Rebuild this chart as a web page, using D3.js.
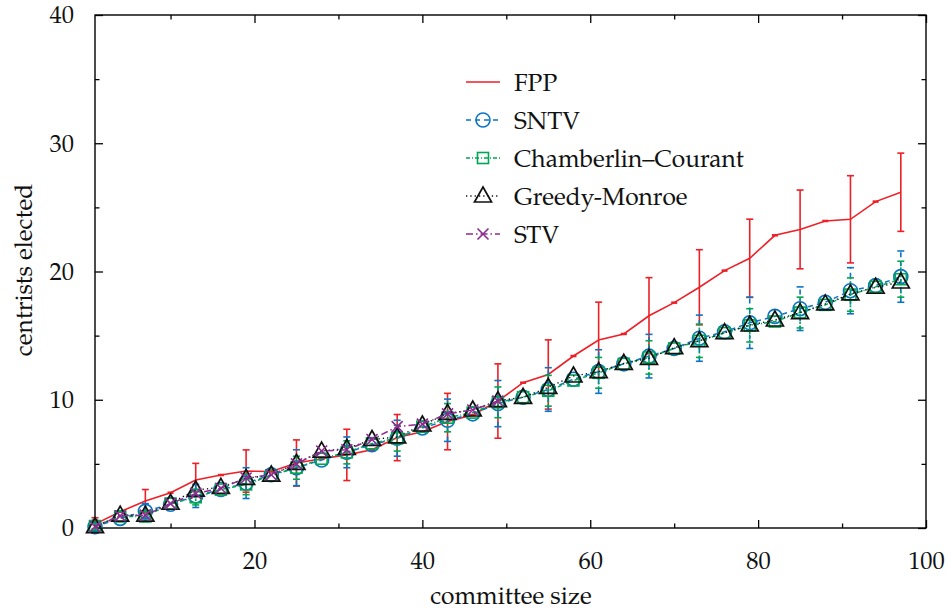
<!DOCTYPE html>
<html><head><meta charset="utf-8">
<script src="https://cdn.jsdelivr.net/npm/d3@7"></script>
<style>body{margin:0;background:#fff} svg{display:block}</style>
</head><body>
<svg id="c" width="948" height="610"></svg>
<script>
// ---- data ----
const committeeSize = [1,4,7,10,13,16,19,22,25,28,31,34,37,40,43,46,49,52,55,58,61,64,67,70,73,76,79,82,85,88,91,94,97];
const fppValues  = [0.3,1.27,2.1,2.75,3.74,4.13,4.44,4.4,5.07,5.4,5.7,6.1,7.05,7.5,8.3,8.81,9.9,11.33,11.97,13.41,14.66,15.13,16.55,17.57,18.77,20.07,21.03,22.82,23.28,23.94,24.07,25.45,26.18];
const sntvValues = [0.1,0.75,1.3,1.85,2.5,3.0,3.5,4.15,4.7,5.3,5.9,6.5,7.0,7.8,8.4,8.9,9.7,10.2,10.8,11.6,12.2,12.8,13.4,14.0,14.8,15.3,16.0,16.5,17.1,17.6,18.5,18.9,19.6];
const ccValues   = [0.15,0.9,0.9,1.9,2.4,3.0,3.4,4.1,4.7,5.4,5.9,6.6,7.0,7.9,8.6,9.0,9.8,10.2,10.7,11.5,12.1,12.8,13.3,14.0,14.6,15.2,15.8,16.1,16.8,17.4,18.2,18.8,19.4];
const gmValues   = [0.1,1.0,1.0,1.93,2.96,3.17,3.87,4.13,5.04,6.0,6.2,6.9,7.1,8.03,8.94,9.2,9.93,10.19,10.97,11.85,12.19,12.84,13.23,14.06,14.6,15.23,15.83,16.22,16.79,17.47,18.25,18.77,19.18];
const stvSize    = [1,4,7,10,13,16,19,22,25,28,31,34,37,40,43,46,49];
const stvValues  = [0.1,0.95,1.0,1.9,2.7,3.1,3.9,4.15,5.0,6.0,6.1,6.9,7.9,8.1,8.9,9.2,9.9];
const errSize    = [1,7,13,19,25,31,37,43,49,55,61,67,73,79,85,91,97];
const fppErr     = [0.5,0.9,1.3,1.65,1.8,2.0,1.8,2.2,2.9,2.7,2.95,2.97,2.93,3.05,3.07,3.4,3.05];
const sntvErr    = [0.3,0.6,0.9,1.2,1.4,1.2,1.4,1.65,1.8,1.7,1.7,1.7,1.8,2.0,1.7,1.8,2.0];
const ccErr      = [0.2,0.4,0.6,0.8,0.9,0.9,1.0,1.1,1.2,1.2,1.2,1.3,1.3,1.3,1.2,1.3,1.4];
const xTicks = [20,40,60,80,100];
const xMinorTicks = [10,30,50,70,90];
const yTicks = [0,10,20,30,40];
const yMinorTicks = [5,15,25,35];
const seriesNames = ["FPP","SNTV","Chamberlin\u2013Courant","Greedy-Monroe","STV"];
const xTitle = "committee size";
const yTitle = "centrists elected";

// ---- styles ----
const RED="#ee1f26", BLUE="#0b74c4", GREEN="#00a651", BLACK="#111", PURPLE="#8f2a91";
const FONT = `"TeX Gyre Pagella", "Liberation Serif", serif`;
const fontSize = 24.5;
// warm up font
const cvx = document.createElement("canvas").getContext("2d");
cvx.font = `${fontSize}px "TeX Gyre Pagella", serif`; cvx.measureText("Chamberlin");

const svg = d3.select("#c");
const L=95,R=926,T=15,B=528;
const x = d3.scaleLinear([1,100],[L,R]);
const y = d3.scaleLinear([0,40],[B,T]);

function txt(sel){ return sel.style("font-family",FONT).style("font-size",fontSize+"px").attr("fill","#111"); }
function styleAxis(g){ g.attr("font-family",null).attr("font-size",null); g.select(".domain").remove();
  g.selectAll("line").attr("stroke","#000").attr("stroke-width",1.3);
  txt(g.selectAll("text")); }
svg.append("g").attr("transform",`translate(0,${B})`).call(d3.axisBottom(x).tickValues(xTicks).tickSizeInner(-8).tickSizeOuter(0).tickPadding(23.5).tickFormat(d3.format("d"))).call(styleAxis);
svg.append("g").attr("transform",`translate(0,${B})`).call(d3.axisBottom(x).tickValues(xMinorTicks).tickSizeInner(-4.5).tickSizeOuter(0).tickFormat("")).call(styleAxis);
svg.append("g").attr("transform",`translate(0,${T})`).call(d3.axisTop(x).tickValues(xTicks).tickSizeInner(-8).tickSizeOuter(0).tickFormat("")).call(styleAxis);
svg.append("g").attr("transform",`translate(0,${T})`).call(d3.axisTop(x).tickValues(xMinorTicks).tickSizeInner(-4.5).tickSizeOuter(0).tickFormat("")).call(styleAxis);
svg.append("g").attr("transform",`translate(${L},0)`).call(d3.axisLeft(y).tickValues(yTicks).tickSizeInner(-8).tickSizeOuter(0).tickPadding(21).tickFormat(d3.format("d"))).call(styleAxis);
svg.append("g").attr("transform",`translate(${L},0)`).call(d3.axisLeft(y).tickValues(yMinorTicks).tickSizeInner(-4.5).tickSizeOuter(0).tickFormat("")).call(styleAxis);
svg.append("g").attr("transform",`translate(${R},0)`).call(d3.axisRight(y).tickValues(yTicks).tickSizeInner(-8).tickSizeOuter(0).tickFormat("")).call(styleAxis);
svg.append("g").attr("transform",`translate(${R},0)`).call(d3.axisRight(y).tickValues(yMinorTicks).tickSizeInner(-4.5).tickSizeOuter(0).tickFormat("")).call(styleAxis);
svg.append("rect").attr("x",L).attr("y",T).attr("width",R-L).attr("height",B-T).attr("fill","none").attr("stroke","#000").attr("stroke-width",1.4);

// titles
txt(svg.append("text").attr("x",511).attr("y",604).attr("text-anchor","middle")).text(xTitle);
txt(svg.append("text").attr("transform","translate(32,270) rotate(-90)").attr("text-anchor","middle")).text(yTitle);

// helpers
const line = d3.line().x(d=>x(d[0])).y(d=>y(d[1]));
function zip(a,b){ return a.map((v,i)=>[v,b[i]]); }
function errorBars(g, xsArr, vals, errs, color, dash){
  const cw=3.5;
  xsArr.forEach((xv,i)=>{
    const idx = committeeSize.indexOf(xv);
    const v = vals[idx], e = errs[i];
    const px = x(xv), y1=y(v-e), y2=y(v+e);
    g.append("line").attr("x1",px).attr("x2",px).attr("y1",y1).attr("y2",y2).attr("stroke",color).attr("stroke-width",1.6).attr("stroke-dasharray",dash);
    g.append("line").attr("x1",px-cw).attr("x2",px+cw).attr("y1",y1).attr("y2",y1).attr("stroke",color).attr("stroke-width",1.6);
    g.append("line").attr("x1",px-cw).attr("x2",px+cw).attr("y1",y2).attr("y2",y2).attr("stroke",color).attr("stroke-width",1.6);
  });
}
function marker(g, type, px, py, color){
  if(type==="circle") g.append("circle").attr("cx",px).attr("cy",py).attr("r",7).attr("fill","none").attr("stroke",color).attr("stroke-width",1.6);
  else if(type==="square") g.append("rect").attr("x",px-5.5).attr("y",py-5.5).attr("width",11).attr("height",11).attr("fill","none").attr("stroke",color).attr("stroke-width",1.6);
  else if(type==="triangle") g.append("path").attr("d",`M${px},${py-9}L${px+8.5},${py+6}L${px-8.5},${py+6}Z`).attr("fill","none").attr("stroke",color).attr("stroke-width",1.7);
  else if(type==="cross"){ const s=5.5; g.append("path").attr("d",`M${px-s},${py-s}L${px+s},${py+s}M${px-s},${py+s}L${px+s},${py-s}`).attr("stroke",color).attr("stroke-width",1.6).attr("fill","none"); }
}

const plot = svg.append("g");
// FPP
const gF = plot.append("g");
gF.append("path").datum(zip(committeeSize,fppValues)).attr("d",line).attr("fill","none").attr("stroke",RED).attr("stroke-width",1.6);
errorBars(gF, errSize, fppValues, fppErr, RED, null);
committeeSize.forEach((xv,i)=>{ if(!errSize.includes(xv)) gF.append("line").attr("x1",x(xv)-3).attr("x2",x(xv)+3).attr("y1",y(fppValues[i])).attr("y2",y(fppValues[i])).attr("stroke",RED).attr("stroke-width",2.5); });
// SNTV
const gS = plot.append("g");
gS.append("path").datum(zip(committeeSize,sntvValues)).attr("d",line).attr("fill","none").attr("stroke",BLUE).attr("stroke-width",1.5).attr("stroke-dasharray","5,4");
errorBars(gS, errSize, sntvValues, sntvErr, BLUE, "5,4");
committeeSize.forEach((xv,i)=>marker(gS,"circle",x(xv),y(sntvValues[i]),BLUE));
// CC
const gC = plot.append("g");
gC.append("path").datum(zip(committeeSize,ccValues)).attr("d",line).attr("fill","none").attr("stroke",GREEN).attr("stroke-width",1.5).attr("stroke-dasharray","4,2,1,2");
errorBars(gC, errSize, ccValues, ccErr, GREEN, "2,2");
committeeSize.forEach((xv,i)=>marker(gC,"square",x(xv),y(ccValues[i]),GREEN));
// GM
const gG = plot.append("g");
gG.append("path").datum(zip(committeeSize,gmValues)).attr("d",line).attr("fill","none").attr("stroke",BLACK).attr("stroke-width",1.4).attr("stroke-dasharray","1.3,3");
committeeSize.forEach((xv,i)=>marker(gG,"triangle",x(xv),y(gmValues[i]),BLACK));
// STV
const gV = plot.append("g");
gV.append("path").datum(zip(stvSize,stvValues)).attr("d",line).attr("fill","none").attr("stroke",PURPLE).attr("stroke-width",1.5).attr("stroke-dasharray","7,3,1.5,3");
stvSize.forEach((xv,i)=>marker(gV,"cross",x(xv),y(stvValues[i]),PURPLE));

// legend
const legY = [82,120,158,196,234];
const legStyles = [
  {c:RED,dash:null,m:null},
  {c:BLUE,dash:"5,4",m:"circle"},
  {c:GREEN,dash:"4,2,1,2",m:"square"},
  {c:BLACK,dash:"1.3,3",m:"triangle"},
  {c:PURPLE,dash:"7,3,1.5,3",m:"cross"}];
const lg = svg.append("g");
seriesNames.forEach((name,i)=>{
  const st=legStyles[i], yy=legY[i];
  lg.append("line").attr("x1",466).attr("x2",500).attr("y1",yy).attr("y2",yy).attr("stroke",st.c).attr("stroke-width",1.4).attr("stroke-dasharray",st.dash);
  if(st.m) marker(lg, st.m, 483, yy, st.c);
  txt(lg.append("text").attr("x",514).attr("y",yy).attr("dy","0.35em")).text(name);
});
</script>
</body></html>
